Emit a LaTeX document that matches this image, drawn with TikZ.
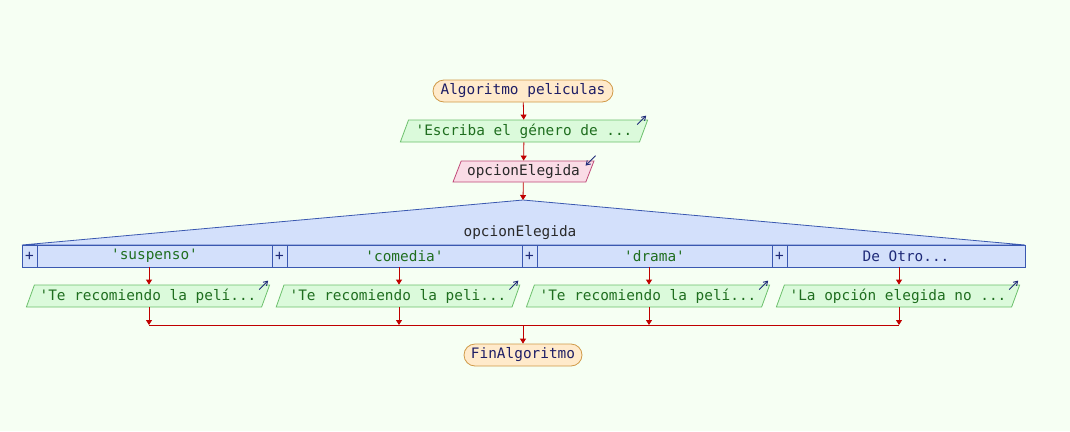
\documentclass[tikz,border=0pt]{standalone}
\usepackage{fontspec}
\setmonofont{DejaVu Sans Mono}
\usetikzlibrary{shapes.geometric,arrows.meta}
\definecolor{bg}{HTML}{F6FFF3}
\definecolor{termfill}{HTML}{FFEACB}
\definecolor{termdraw}{HTML}{D09A48}
\definecolor{termtext}{HTML}{1E1E66}
\definecolor{outfill}{HTML}{DBFADB}
\definecolor{outdraw}{HTML}{6CC06C}
\definecolor{outtext}{HTML}{1F6E1F}
\definecolor{infill}{HTML}{FADCE6}
\definecolor{indraw}{HTML}{C04A78}
\definecolor{intext}{HTML}{2A2A2A}
\definecolor{swfill}{HTML}{D3E0FB}
\definecolor{swdraw}{HTML}{3A58B0}
\definecolor{flowc}{HTML}{C00000}
\definecolor{navy}{HTML}{1E2A78}
\begin{document}
\begin{tikzpicture}[x=1pt,y=-1pt,
  font=\ttfamily\fontsize{14.4}{17}\selectfont,
  term/.style={draw=termdraw,fill=termfill,text=termtext,rounded corners=11pt,minimum height=22pt,inner sep=2pt,line width=0.8pt},
  outp/.style={trapezium,trapezium left angle=65,trapezium right angle=115,trapezium stretches=true,draw=outdraw,fill=outfill,text=outtext,minimum height=22pt,inner sep=1pt,line width=0.8pt},
  inp/.style={trapezium,trapezium left angle=65,trapezium right angle=115,trapezium stretches=true,draw=indraw,fill=infill,text=intext,minimum height=21pt,inner sep=1pt,line width=0.8pt},
  plusbox/.style={draw=swdraw,fill=swfill,text=navy,minimum width=15pt,minimum height=22pt,inner sep=0pt,line width=0.8pt},
  casebox/.style={draw=swdraw,fill=swfill,text=outtext,minimum height=22pt,inner sep=0pt,line width=0.8pt},
  flow/.style={draw=flowc,line width=0.8pt,-{Triangle[length=5pt,width=6pt]}},
  flowline/.style={draw=flowc,line width=0.8pt},
  smallarr/.style={draw=navy,line width=0.9pt,-{Straight Barb[length=4pt,width=5pt]}}
]
\fill[bg] (0,0) rectangle (1070,431);
\useasboundingbox (0,0) rectangle (1070,431);

% start
\node[term,minimum width=180pt] (start) at (523,91) {Algoritmo peliculas};
\node[outp,minimum width=248pt] (o0) at (524,131) {'Escriba el género de ...};
\node[inp,minimum width=141pt] (in) at (523.5,171.5) {opcionElegida};
\draw[smallarr] ([xshift=-11pt,yshift=-5pt]o0.top right corner) -- ++(9,-9);
\draw[smallarr] ([xshift=1pt,yshift=5pt]in.top right corner) -- ++(-10,10);

% switch
\coordinate (apex) at (523,200);
\filldraw[draw=swdraw,fill=swfill,line width=0.8pt] (22,245) -- (apex) -- (1025,245) -- cycle;
\node[text=intext] (sw) at (520,233) {opcionElegida};

\node[plusbox] (p1) at (29.5,256) {+};
\node[casebox,minimum width=235pt] (c1) at (154.5,256) {'suspenso'};
\node[plusbox] (p2) at (279.5,256) {+};
\node[casebox,minimum width=235pt] (c2) at (404.5,256) {'comedia'};
\node[plusbox] (p3) at (529.5,256) {+};
\node[casebox,minimum width=235pt] (c3) at (654.5,256) {'drama'};
\node[plusbox] (p4) at (779.5,256) {+};
\node[casebox,minimum width=238pt,text=navy] (c4) at (906,256) {De Otro...};

% case outputs
\node[outp,minimum width=244pt] (o1) at (148,296) {'Te recomiendo la pelí...};
\node[outp,minimum width=244pt] (o2) at (398,296) {'Te recomiendo la peli...};
\node[outp,minimum width=244pt] (o3) at (648,296) {'Te recomiendo la pelí...};
\node[outp,minimum width=244pt] (o4) at (898,296) {'La opción elegida no ...};
\foreach \i in {1,2,3,4}{
  \draw[smallarr] ([xshift=-11pt,yshift=-5pt]o\i.top right corner) -- ++(9,-9);
}

% end
\node[term,minimum width=118pt] (end) at (523,355) {FinAlgoritmo};

% flow
\draw[flow] (start) -- (o0);
\draw[flow] (o0) -- (in);
\draw[flow] (in) -- (apex);
\coordinate (m1) at (149,325);
\coordinate (m2) at (399,325);
\coordinate (m3) at (649,325);
\coordinate (m4) at (899,325);
\coordinate (m0) at (523,325);
\draw[flow] (c1.south -| m1) -- (o1.north -| m1);
\draw[flow] (c2.south -| m2) -- (o2.north -| m2);
\draw[flow] (c3.south -| m3) -- (o3.north -| m3);
\draw[flow] (c4.south -| m4) -- (o4.north -| m4);
\draw[flow] (o1.south -| m1) -- (m1);
\draw[flow] (o2.south -| m2) -- (m2);
\draw[flow] (o3.south -| m3) -- (m3);
\draw[flow] (o4.south -| m4) -- (m4);
\draw[flowline] (m1) -- (m4);
\draw[flow] (m0) -- (end);
\end{tikzpicture}
\end{document}
